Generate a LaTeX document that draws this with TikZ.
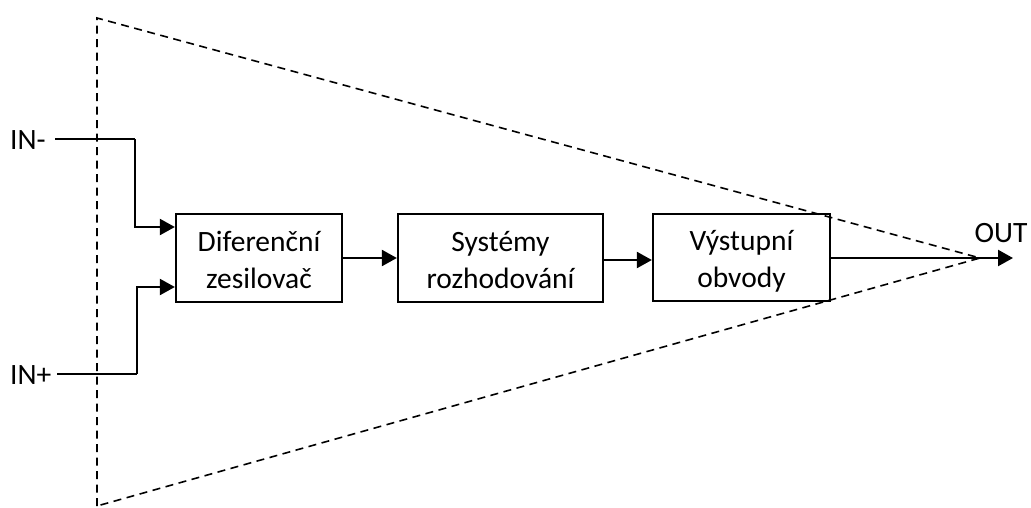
\documentclass[tikz,border=0pt]{standalone}
\usepackage{fontspec}
\setmainfont{Carlito}
\usetikzlibrary{arrows.meta,calc}
\newcommand\bstrut{\rule[-4pt]{0pt}{31pt}}
\begin{document}
\begin{tikzpicture}[x=1pt,y=-1pt,
  blk/.style={draw,line width=2.3pt,align=center,inner sep=0pt,font=\fontsize{29.5}{37}\selectfont},
  lbl/.style={inner sep=0pt,font=\fontsize{29.5}{35}\selectfont},
  arr/.style={line width=2.3pt,-{Triangle[length=15pt,width=16pt]}},
  wire/.style={line width=2.3pt},
  dsh/.style={line width=1.6pt,dash pattern=on 8pt off 5.5pt}]
\useasboundingbox (0,0) rectangle (1031,507);
% triangle outline
\coordinate (tl) at (97,18);
\coordinate (bl) at (97,506);
\coordinate (apex) at (980,258);
\draw[dsh] (bl) -- (tl) -- (apex) -- (bl);
% blocks
\node[blk,minimum width=166pt,minimum height=88pt] (b1) at (259,258) {\bstrut Diferenční\\\bstrut zesilovač};
\node[blk,minimum width=205pt,minimum height=88pt] (b2) at (500.5,258) {\bstrut Systémy\\\bstrut rozhodování};
\node[blk,minimum width=177pt,minimum height=87pt] (b3) at (741.5,257.5) {\bstrut Výstupní\\\bstrut obvody};
% labels
\node[lbl,anchor=west] (inm) at (10,140) {IN-};
\node[lbl,anchor=west] (inp) at (10,375) {IN+};
\node[lbl] (out) at (1001,233) {OUT};
% input wires
\coordinate (m1) at (135,139);
\coordinate (m2) at (135,227);
\coordinate (p1) at (137,374);
\coordinate (p2) at (137,287);
\draw[wire] (55,139) -- (m1);
\draw[arr] (m1) -- (m2) -- (m2 -| b1.west);
\draw[wire] (57,374) -- (p1);
\draw[arr] (p1) -- (p2) -- (p2 -| b1.west);
% chain
\draw[arr] (b1.east) -- (b2.west);
\draw[arr] (b2.east |- 0,260) -- (b3.west |- 0,260);
\coordinate (oend) at (1013,258);
\draw[arr] (b3.east |- 0,258) -- (oend);
\end{tikzpicture}
\end{document}
